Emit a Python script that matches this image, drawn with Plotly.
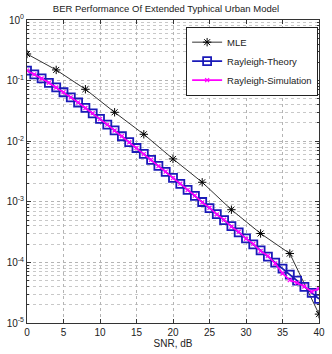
import plotly.graph_objects as go

snr_mle = [0, 4, 8, 12, 16, 20, 24, 28, 32, 36, 40]
ber_mle = [0.275, 0.15, 0.072, 0.030, 0.013, 0.0051, 0.0021, 7.4e-4, 3.0e-4, 1.4e-4, 1.4e-5]

snr = list(range(0, 41))
ber_theory = [0.1464, 0.1267, 0.1085, 0.0919, 0.0771, 0.0642, 0.0530, 0.0435, 0.0355, 0.0288,
              0.0233, 0.01875, 0.01506, 0.01208, 0.00967, 0.00772, 0.006164, 0.004914, 0.003916, 0.003118,
              0.002481, 0.001974, 0.001570, 0.001249, 0.000992, 0.000788, 0.000627, 0.000498, 0.000396, 0.000314,
              0.000250, 0.000198, 0.000158, 0.000125, 9.95e-5, 7.90e-5, 6.28e-5, 4.99e-5, 3.96e-5, 3.15e-5, 2.50e-5]
ber_sim = [0.1460, 0.1270, 0.1082, 0.0921, 0.0769, 0.0644, 0.0528, 0.0437, 0.0353, 0.0290,
           0.0232, 0.01880, 0.01500, 0.01212, 0.00962, 0.00776, 0.006130, 0.004940, 0.003890, 0.003140,
           0.002460, 0.001990, 0.001555, 0.001262, 0.000980, 0.000798, 0.000618, 0.000505, 0.000390, 0.000320,
           0.000246, 0.000202, 0.000154, 0.000128, 9.6e-5, 6.6e-5, 5.1e-5, 4.6e-5, 4.0e-5, 3.3e-5, 3.7e-5]

ytick_vals = [1e-5, 1e-4, 1e-3, 1e-2, 1e-1, 1]
ytick_text = ["10<sup>-5</sup>", "10<sup>-4</sup>", "10<sup>-3</sup>", "10<sup>-2</sup>", "10<sup>-1</sup>", "10<sup>0</sup>"]
xtick_vals = [0, 5, 10, 15, 20, 25, 30, 35, 40]

fig = go.Figure()
fig.add_trace(go.Scatter(x=snr_mle, y=ber_mle, name="MLE", mode="lines+markers",
                         line=dict(color="#333333", width=1),
                         marker=dict(symbol="asterisk-open", size=7, color="black", line=dict(width=1, color="black"))))
fig.add_trace(go.Scatter(x=snr, y=ber_theory, name="Rayleigh-Theory", mode="lines+markers",
                         line=dict(color="#1a1ab8", width=1.8),
                         marker=dict(symbol="square-open", size=8, color="#1a1ab8", line=dict(width=1.8, color="#1a1ab8"))))
fig.add_trace(go.Scatter(x=snr, y=ber_sim, name="Rayleigh-Simulation", mode="lines+markers",
                         line=dict(color="#ff00ff", width=1.6),
                         marker=dict(symbol="x-thin-open", size=4, color="#ff00ff", line=dict(width=1.2, color="#ff00ff"))))

fig.update_layout(
    width=332, height=354,
    margin=dict(l=22, r=7, t=20, b=31),
    paper_bgcolor="white", plot_bgcolor="white",
    font=dict(family="Liberation Sans, Arial, sans-serif", size=10, color="#222222"),
    title=dict(text="BER Performance Of Extended Typhical Urban Model", x=0.5, xanchor="center",
               y=0.985, yanchor="top", font=dict(size=9.5)),
    showlegend=True,
    legend=dict(x=0.997, y=0.978, xanchor="right", yanchor="top", bgcolor="white",
                bordercolor="#222222", borderwidth=1, font=dict(size=9.5), itemwidth=30,
                tracegroupgap=0),
)
fig.update_xaxes(range=[0, 40], tickvals=xtick_vals, showline=True, mirror="ticks", linecolor="#333333",
                 linewidth=1, ticks="inside", ticklen=4, tickcolor="#333333",
                 showgrid=True, gridcolor="#b4b4b4", griddash="dot", gridwidth=1, zeroline=False,
                 title=dict(text="SNR, dB", standoff=2, font=dict(size=10)))
fig.update_yaxes(type="log", range=[-5, 0], tickvals=ytick_vals, ticktext=ytick_text,
                 showline=True, mirror="ticks", linecolor="#333333", linewidth=1,
                 ticks="inside", ticklen=4, tickcolor="#333333",
                 showgrid=True, gridcolor="#b4b4b4", griddash="dot", gridwidth=1, zeroline=False,
                 minor=dict(dtick="D1", showgrid=True, gridcolor="#c8c8c8", griddash="dot", gridwidth=1,
                            ticks="inside", ticklen=2, tickcolor="#333333"))
fig.write_html("out.html")
